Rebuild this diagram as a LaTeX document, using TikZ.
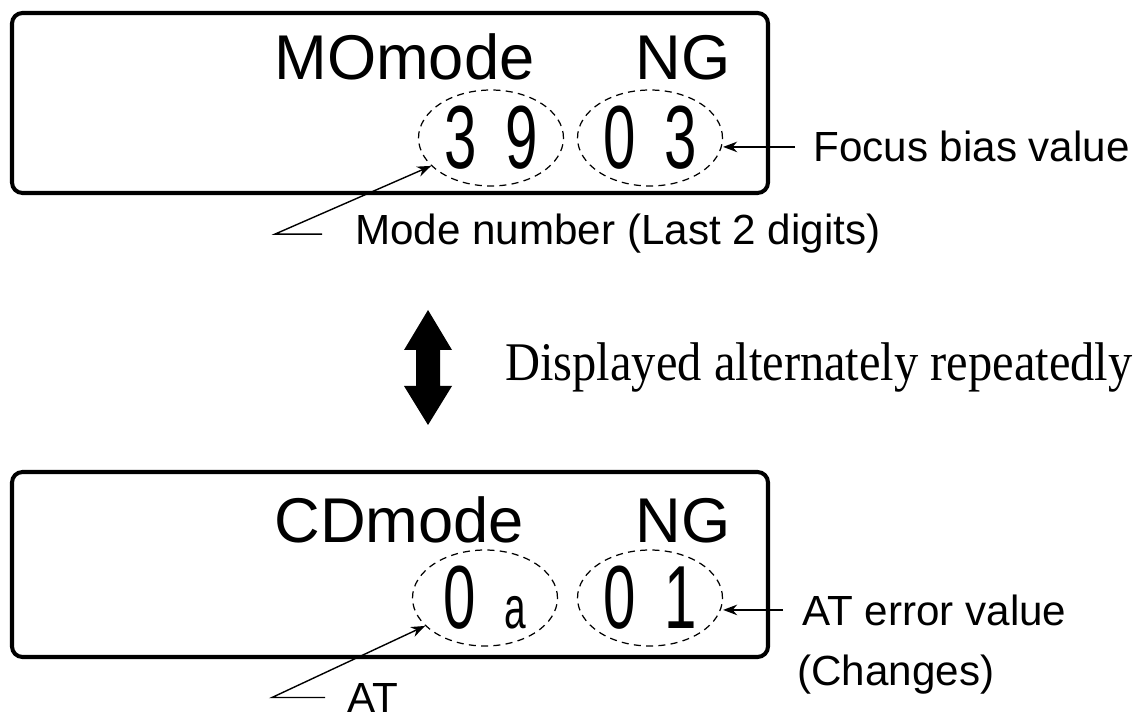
\documentclass[tikz,border=0pt]{standalone}
\usepackage{fontspec}
\setmainfont{Liberation Sans}
\newfontfamily\notefont{Liberation Serif}
\usepackage{graphicx}
\usetikzlibrary{
    arrows.meta,
    shapes.geometric,
    positioning
}
\tikzstyle{lcdbox} = [
    draw=black,
    line width=2.3pt,
    rounded corners=6pt
]
\tikzstyle{ring} = [
    ellipse,
    draw=black,
    dash pattern=on 4pt off 3pt,
    line width=0.7pt,
    minimum width=2.9cm,
    minimum height=1.92cm,
    inner sep=0pt
]
\tikzstyle{pointer} = [
    -{Stealth[length=8pt,width=6pt]},
    line width=0.8pt
]
\tikzstyle{callout} = [
    font=\fontsize{24}{28}\selectfont,
    inner sep=0pt
]
\tikzstyle{lcdtext} = [
    font=\fontsize{36}{40}\selectfont,
    inner sep=0pt
]
\newcommand{\digitpair}[2]{\scalebox{0.65}[1]{\fontsize{51}{51}\selectfont #1\hspace{25pt}#2}}

\begin{document}
\begin{tikzpicture}[x=0.02cm, y=-0.02cm]
    \useasboundingbox (0,0) rectangle (1147,726);

    % MO mode display
    \draw[lcdbox] (12,13) rectangle (768,193);
    \node[lcdtext, anchor=base west] (motitle) at (274,80) {MOmode};
    \node[lcdtext, anchor=base east] (mong) at (731,80) {NG};
    \node[ring] (mo1) at (491,138) {\digitpair{3}{9}};
    \node[ring] (mo2) at (650,138) {\digitpair{0}{3}};

    \node[callout, anchor=base west] (mode) at (355,245) {Mode number (Last 2 digits)};
    \draw[pointer] ([xshift=-0.66cm]mode.west) -- ([xshift=-1.6cm]mode.west) -- (mo1.205);

    \node[callout, anchor=base west] (focus) at (813,162) {Focus bias value};
    \draw[pointer] ([xshift=-0.36cm]focus.west) -- (mo2.east |- focus.west);

    % Alternating
    \fill (428,310) -- (452,350) -- (440,350) -- (440,386) -- (452,386) -- (428,425)
        -- (404,386) -- (416,386) -- (416,350) -- (404,350) -- cycle;
    \node[anchor=base west, inner sep=0pt] (swapnote) at (505,380)
        {\notefont\fontsize{31}{31}\selectfont\scalebox{0.89}[1]{Displayed alternately repeatedly}};

    % CD mode display
    \draw[lcdbox] (12,472) rectangle (768,657);
    \node[lcdtext, anchor=base west] (cdtitle) at (274,542) {CDmode};
    \node[lcdtext, anchor=base east] (cdng) at (731,542) {NG};
    \node[ring] (cd1) at (485,598) {\digitpair{0}{\fontsize{34}{34}\selectfont a}};
    \node[ring] (cd2) at (650,598) {\digitpair{0}{1}};

    \node[callout, anchor=base west] (atlbl) at (347,712) {AT};
    \draw[pointer] ([xshift=-0.44cm]atlbl.west) -- ([xshift=-1.5cm]atlbl.west) -- (cd1.205);

    \node[callout, anchor=base west] (aterr) at (802,625) {AT error value};
    \node[callout, anchor=base west] (changes) at (797,685) {(Changes)};
    \draw[pointer] ([xshift=-0.38cm]aterr.west) -- (cd2.east |- aterr.west);
\end{tikzpicture}
\end{document}
